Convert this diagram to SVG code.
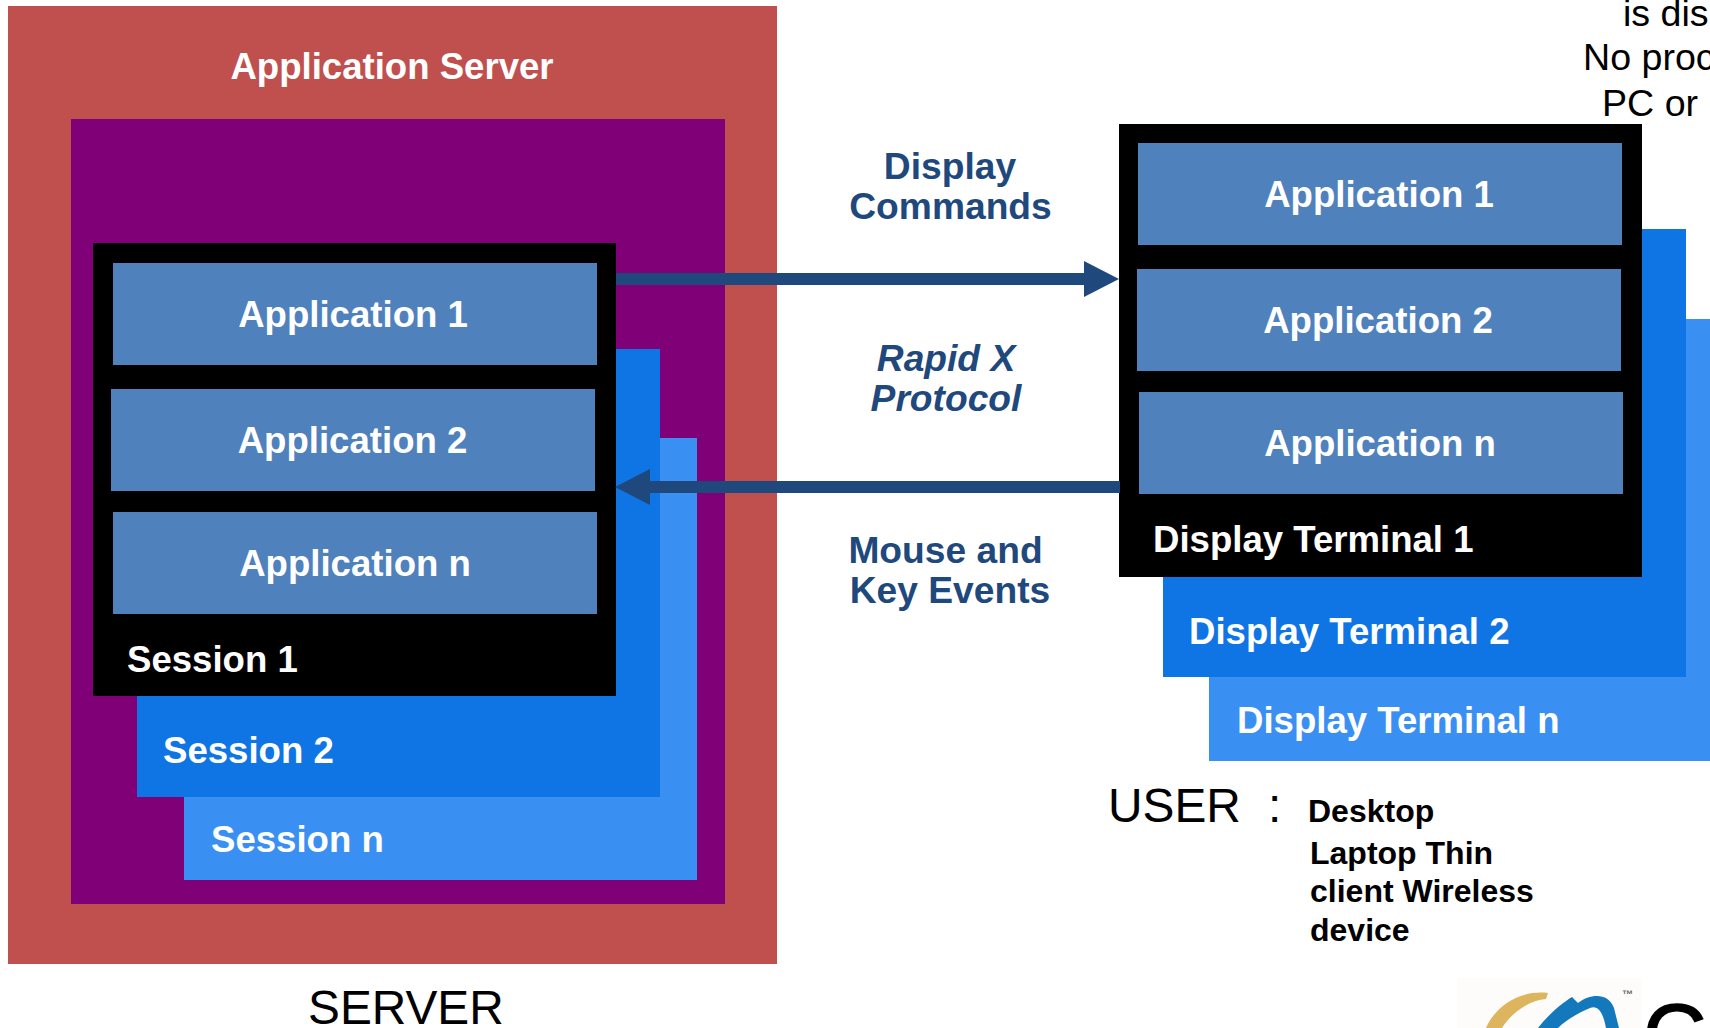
<svg xmlns="http://www.w3.org/2000/svg" width="1710" height="1028" viewBox="0 0 1710 1028">
<style>
text{font-family:"Liberation Sans",Arial,sans-serif}
.w{font-weight:bold;font-size:36.6px;fill:#fff}
.c{text-anchor:middle}
.b{font-weight:bold;font-size:37.2px;fill:#1f497d}
.k{font-size:37.6px;fill:#000}
.l{font-size:47.8px;fill:#000}
.s{font-weight:bold;font-size:32px;fill:#000}
.app{fill:#4f81bd}
.d2{fill:#0f75e4}
.d3{fill:#3a8ff2}
</style>
<rect width="1710" height="1028" fill="#fff"/>
<g id="caption-top">
<text class="k" x="1623" y="26">is disp</text>
<text class="k" x="1583" y="70">No proc</text>
<text class="k" x="1602" y="116">PC or l</text>
</g>
<g id="server">
<rect x="8" y="6" width="769" height="958" fill="#c0504d"/>
<text class="w c" x="392" y="79">Application Server</text>
</g>
<g id="server-inner"><rect x="71" y="119" width="654" height="785" fill="#800078"/></g>
<g id="session-n"><rect class="d3" x="184" y="438" width="513" height="442"/><text class="w" x="211" y="852">Session n</text></g>
<g id="session-2"><rect class="d2" x="137" y="349" width="523" height="448"/><text class="w" x="163" y="763">Session 2</text></g>
<g id="session-1"><rect x="93" y="243" width="523" height="453"/><text class="w" x="127" y="672">Session 1</text></g>
<g id="s-app-1"><rect class="app" x="113" y="263" width="484" height="102"/><text class="w c" x="353" y="327">Application 1</text></g>
<g id="s-app-2"><rect class="app" x="111" y="389" width="484" height="102"/><text class="w c" x="352.5" y="453">Application 2</text></g>
<g id="s-app-n"><rect class="app" x="113" y="512" width="484" height="102"/><text class="w c" x="355" y="576">Application n</text></g>
<g id="terminal-n"><rect class="d3" x="1209" y="319" width="520" height="442"/><text class="w" x="1237" y="733">Display Terminal n</text></g>
<g id="terminal-2"><rect class="d2" x="1163" y="229" width="523" height="448"/><text class="w" x="1189" y="644">Display Terminal 2</text></g>
<g id="terminal-1"><rect x="1119" y="124" width="523" height="453"/><text class="w" x="1153" y="552">Display Terminal 1</text></g>
<g id="t-app-1"><rect class="app" x="1138" y="143" width="484" height="102"/><text class="w c" x="1379" y="207">Application 1</text></g>
<g id="t-app-2"><rect class="app" x="1137" y="269" width="484" height="102"/><text class="w c" x="1378" y="333">Application 2</text></g>
<g id="t-app-n"><rect class="app" x="1139" y="392" width="484" height="102"/><text class="w c" x="1380" y="456">Application n</text></g>
<g id="connectors" fill="#1f497d">
<path d="M616 273H1084V261L1119 279L1084 297V285H616Z"/>
<path d="M1120 481H650V469L615 487L650 505V493H1120Z"/>
</g>
<g id="labels">
<text class="b c" x="950" y="179">Display</text>
<text class="b c" x="950.5" y="219">Commands</text>
<text class="b c" font-style="italic" x="946" y="371">Rapid X</text>
<text class="b c" font-style="italic" x="946" y="411">Protocol</text>
<text class="b c" x="945.5" y="563">Mouse and</text>
<text class="b c" x="950" y="603">Key Events</text>
</g>
<g id="user">
<text class="l" x="1108" y="822">USER</text>
<text class="l" x="1268" y="822">:</text>
<text class="s" x="1308" y="822">Desktop</text>
<text class="s" x="1310" y="864">Laptop Thin</text>
<text class="s" x="1310" y="902">client Wireless</text>
<text class="s" x="1310" y="941">device</text>
</g>
<g id="server-label"><text class="l" x="308" y="1024">SERVER</text></g>
<g id="logo">
<rect x="1457" y="978" width="185" height="50" fill="#fdfcfb"/>
<path d="M1486 1028C1496 1005 1520 990 1548 993L1546 999C1530 1000 1512 1012 1502 1028Z" fill="#dcb55e"/>
<path d="M1538 1028C1548 1015 1562 1003 1572 997L1578 1003C1590 994 1608 992 1614 1008L1619 1028H1606C1603 1012 1598 1005 1590 1008C1580 1012 1566 1020 1558 1028Z" fill="#1478bd"/>
<text x="1622" y="998" font-size="11" font-weight="bold" fill="#666">™</text>
<text x="1643" y="1065" font-size="88" fill="#000" stroke="#000" stroke-width="1.5">C</text>
</g>
</svg>
